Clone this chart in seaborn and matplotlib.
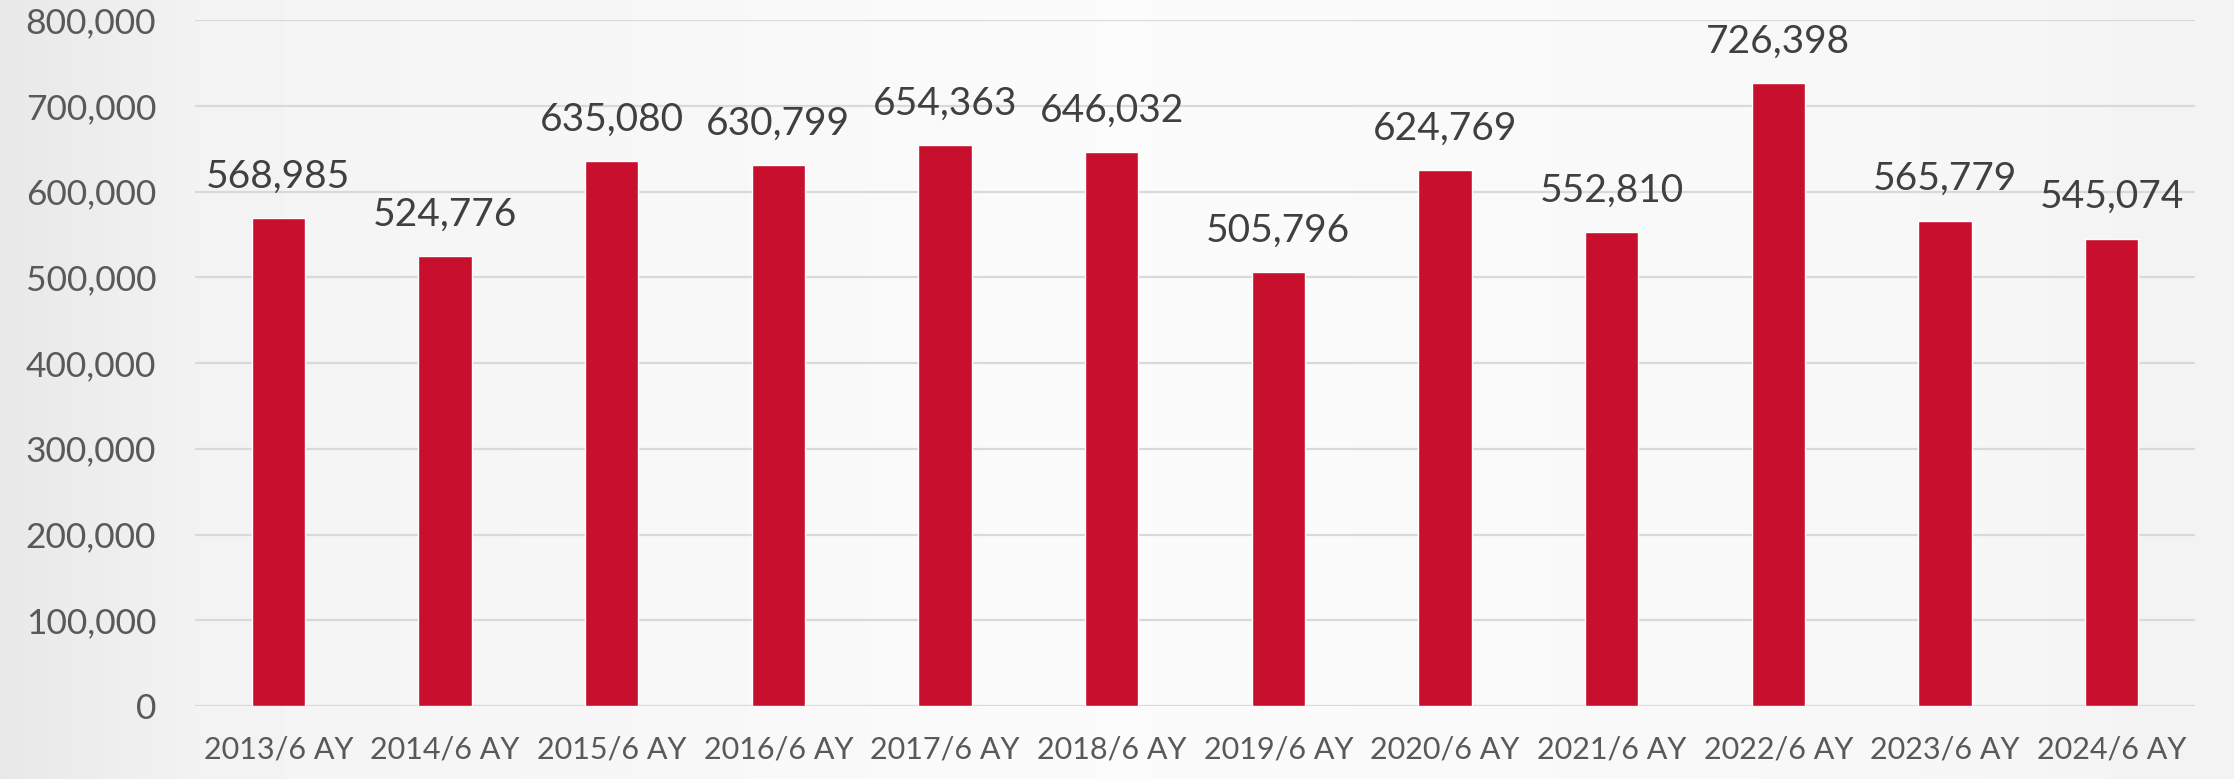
import numpy as np
import seaborn as sns
import matplotlib.pyplot as plt
from matplotlib.ticker import StrMethodFormatter

periods = ['2013/6 AY', '2014/6 AY', '2015/6 AY', '2016/6 AY', '2017/6 AY', '2018/6 AY',
           '2019/6 AY', '2020/6 AY', '2021/6 AY', '2022/6 AY', '2023/6 AY', '2024/6 AY']
values = [568985, 524776, 635080, 630799, 654363, 646032,
          505796, 624769, 552810, 726398, 565779, 545074]

sns.set_theme(style="white")
plt.rcParams['font.family'] = ['Lato', 'DejaVu Sans']

fig = plt.figure(figsize=(22.34, 7.79), dpi=100)

# soft grey backdrop like the slide behind the chart
bg = fig.add_axes([0, 0, 1, 1], zorder=-1)
shade = np.interp(np.linspace(0, 1, 400), [0, 0.1, 0.5, 0.85, 1], [0.91, 0.955, 0.985, 0.97, 0.95])
bg.imshow(np.tile(shade, (10, 1)), cmap='gray', vmin=0, vmax=1, aspect='auto')
bg.axis('off')

ax = fig.add_axes([195 / 2234, 73 / 779, 2000 / 2234, 686 / 779])
ax.set_facecolor('none')
sns.barplot(x=periods, y=values, color='#C8102E', saturation=1, width=0.32, ax=ax, zorder=3)

ax.set_ylim(0, 800000)
ax.set_yticks(range(0, 800001, 100000))
ax.yaxis.set_major_formatter(StrMethodFormatter('{x:,.0f}'))
ax.grid(axis='y', color='#d9d9d9', linewidth=1.6, zorder=0)
ax.grid(axis='x', visible=False)
for s in ax.spines.values():
    s.set_visible(False)
ax.tick_params(axis='y', length=0, pad=28, labelsize=25.5, labelcolor='#595959')
ax.tick_params(axis='x', length=0, pad=21, labelsize=22, labelcolor='#595959')
ax.set_xlabel('')
ax.set_ylabel('')

ax.bar_label(ax.containers[0], fmt='{:,.0f}', padding=17, fontsize=28, color='#404040', clip_on=False)

fig.savefig('out.png', dpi=100)
